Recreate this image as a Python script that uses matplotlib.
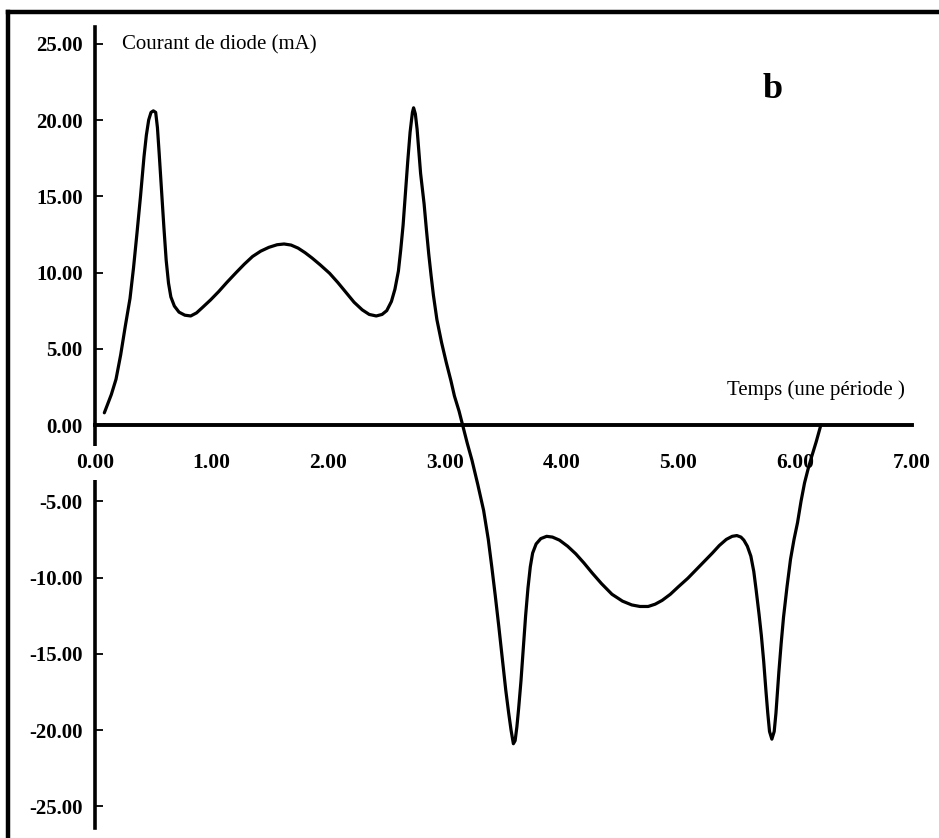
import matplotlib.pyplot as plt
from matplotlib.lines import Line2D

# Curve: time (one period) and diode current (mA)
temps = [0.08, 0.10, 0.14, 0.18, 0.22, 0.26, 0.30, 0.33, 0.36, 0.39,
         0.42, 0.44, 0.46, 0.48, 0.50, 0.52, 0.535, 0.55, 0.57, 0.59,
         0.61, 0.63, 0.65, 0.68, 0.72, 0.77, 0.82, 0.87, 0.92, 0.99,
         1.06, 1.13, 1.21, 1.28, 1.35, 1.42, 1.49, 1.56, 1.62, 1.68,
         1.74, 1.80, 1.86, 1.93, 2.01, 2.08, 2.15, 2.22, 2.29, 2.35,
         2.41, 2.46, 2.50, 2.54, 2.57, 2.60, 2.62, 2.64, 2.66, 2.68,
         2.70, 2.72, 2.73, 2.745, 2.76, 2.79, 2.82, 2.84, 2.86, 2.88,
         2.90, 2.93, 2.97, 3.01, 3.05, 3.08, 3.12, 3.15,
         3.19, 3.23, 3.28, 3.33, 3.37, 3.40, 3.43, 3.46, 3.49, 3.52,
         3.545, 3.565, 3.585, 3.60, 3.615, 3.63, 3.65, 3.67, 3.69, 3.71,
         3.73, 3.75, 3.78, 3.82, 3.87, 3.92, 3.98, 4.05, 4.12, 4.19,
         4.26, 4.34, 4.43, 4.52, 4.60, 4.67, 4.74, 4.80, 4.86, 4.93,
         5.00, 5.08, 5.15, 5.22, 5.29, 5.35, 5.41, 5.46, 5.50, 5.535,
         5.56, 5.59, 5.62, 5.645, 5.665, 5.69, 5.71, 5.73, 5.75, 5.765,
         5.78, 5.80, 5.82, 5.835, 5.86, 5.88, 5.90, 5.93, 5.96, 5.99,
         6.02, 6.05, 6.08, 6.11, 6.14, 6.18, 6.22]
courant = [0.8, 1.2, 2.0, 3.0, 4.6, 6.5, 8.3, 10.3, 12.6, 15.0,
           17.6, 19.0, 20.0, 20.5, 20.6, 20.5, 19.5, 17.8, 15.4, 13.0,
           10.8, 9.3, 8.4, 7.8, 7.4, 7.2, 7.15, 7.35, 7.7, 8.2,
           8.75, 9.35, 10.0, 10.55, 11.05, 11.4, 11.65, 11.82, 11.87, 11.8,
           11.6, 11.3, 10.95, 10.5, 9.95, 9.35, 8.7, 8.05, 7.55, 7.25,
           7.15, 7.25, 7.5, 8.1, 8.9, 10.1, 11.5, 13.1, 15.2, 17.3,
           19.2, 20.5, 20.8, 20.4, 19.4, 16.5, 14.5, 12.8, 11.2, 9.8,
           8.5, 6.9, 5.4, 4.1, 2.9, 1.9, 0.9, 0.0,
           -1.2, -2.3, -3.9, -5.6, -7.5, -9.3, -11.2, -13.2, -15.3, -17.4,
           -18.9, -20.0, -20.9, -20.7, -19.8, -18.6, -16.8, -14.6, -12.5, -10.7,
           -9.3, -8.4, -7.8, -7.45, -7.3, -7.35, -7.55, -7.95, -8.45, -9.05,
           -9.7, -10.4, -11.1, -11.55, -11.8, -11.9, -11.9, -11.75, -11.5, -11.1,
           -10.6, -10.05, -9.5, -8.95, -8.4, -7.9, -7.5, -7.3, -7.25, -7.35,
           -7.55, -7.95, -8.6, -9.6, -10.8, -12.4, -13.8, -15.5, -17.5, -18.9,
           -20.1, -20.6, -20.1, -18.9, -16.2, -14.3, -12.6, -10.6, -8.8, -7.5,
           -6.4, -5.0, -3.8, -2.9, -2.1, -1.1, 0.0]

xticks = [0, 1, 2, 3, 4, 5, 6, 7]
yticks = [-25, -20, -15, -10, -5, 0, 5, 10, 15, 20, 25]

W, H = 939, 838
fig = plt.figure(figsize=(W / 100, H / 100), dpi=100)

# axes placed so that x=0 sits at px 95 and y=0 at px 425
x0, xs = 95, 116.7
y0, ys = 425, 15.25
xmin, xmax = -0.5, 7.3
ymin, ymax = -27.3, 27.3
left = (x0 + xmin * xs) / W
width = (xmax - xmin) * xs / W
bottom = (H - (y0 - ymin * ys)) / H
height = (ymax - ymin) * ys / H
ax = fig.add_axes([left, bottom, width, height])
ax.set_xlim(xmin, xmax)
ax.set_ylim(ymin, ymax)
ax.patch.set_alpha(0)

ax.plot(temps, courant, color="black", lw=2.3, solid_joinstyle="round",
        solid_capstyle="round")

for s in ["top", "right"]:
    ax.spines[s].set_visible(False)
ax.spines["left"].set_position(("data", 0))
ax.spines["bottom"].set_position(("data", 0))
ax.spines["left"].set_bounds(-26.4, 26.1)
ax.spines["bottom"].set_bounds(0, 7)
ax.spines["left"].set_linewidth(2.6)
ax.spines["bottom"].set_linewidth(2.8)

serif = "Liberation Serif"
ax.set_yticks(yticks)
ax.set_yticklabels(["%.2f" % v for v in yticks], fontfamily=serif,
                   fontweight="bold", fontsize=15)
ax.tick_params(axis="y", direction="in", length=6, width=1.3, pad=9)
ax.set_xticks(xticks)
ax.set_xticklabels(["%.2f" % v for v in xticks], fontfamily=serif,
                   fontweight="bold", fontsize=15.5)
ax.tick_params(axis="x", length=0, pad=20)
# the first x label sits on the y spine and breaks it, as in the scan
ax.get_xticklabels()[0].set_bbox(dict(facecolor="white", edgecolor="none", pad=5))
ax.xaxis.set_zorder(3)

ax.text(0.23, 24.9, "Courant de diode (mA)", fontfamily=serif, fontsize=15,
        va="center", ha="left")
ax.text(6.94, 2.3, "Temps (une période )", fontfamily=serif, fontsize=15,
        va="center", ha="right")
ax.text(5.72, 22.0, "b", fontfamily=serif, fontsize=26, fontweight="bold",
        va="center", ha="left")

# frame of the scanned page (left and top edges)
fx = 8 / W
fy = 1 - 12 / H
fig.add_artist(Line2D([fx, fx], [0, fy], transform=fig.transFigure,
                      color="black", lw=3.2))
fig.add_artist(Line2D([fx, 1], [fy, fy], transform=fig.transFigure,
                      color="black", lw=3.2))

fig.savefig("out.png", dpi=100)
